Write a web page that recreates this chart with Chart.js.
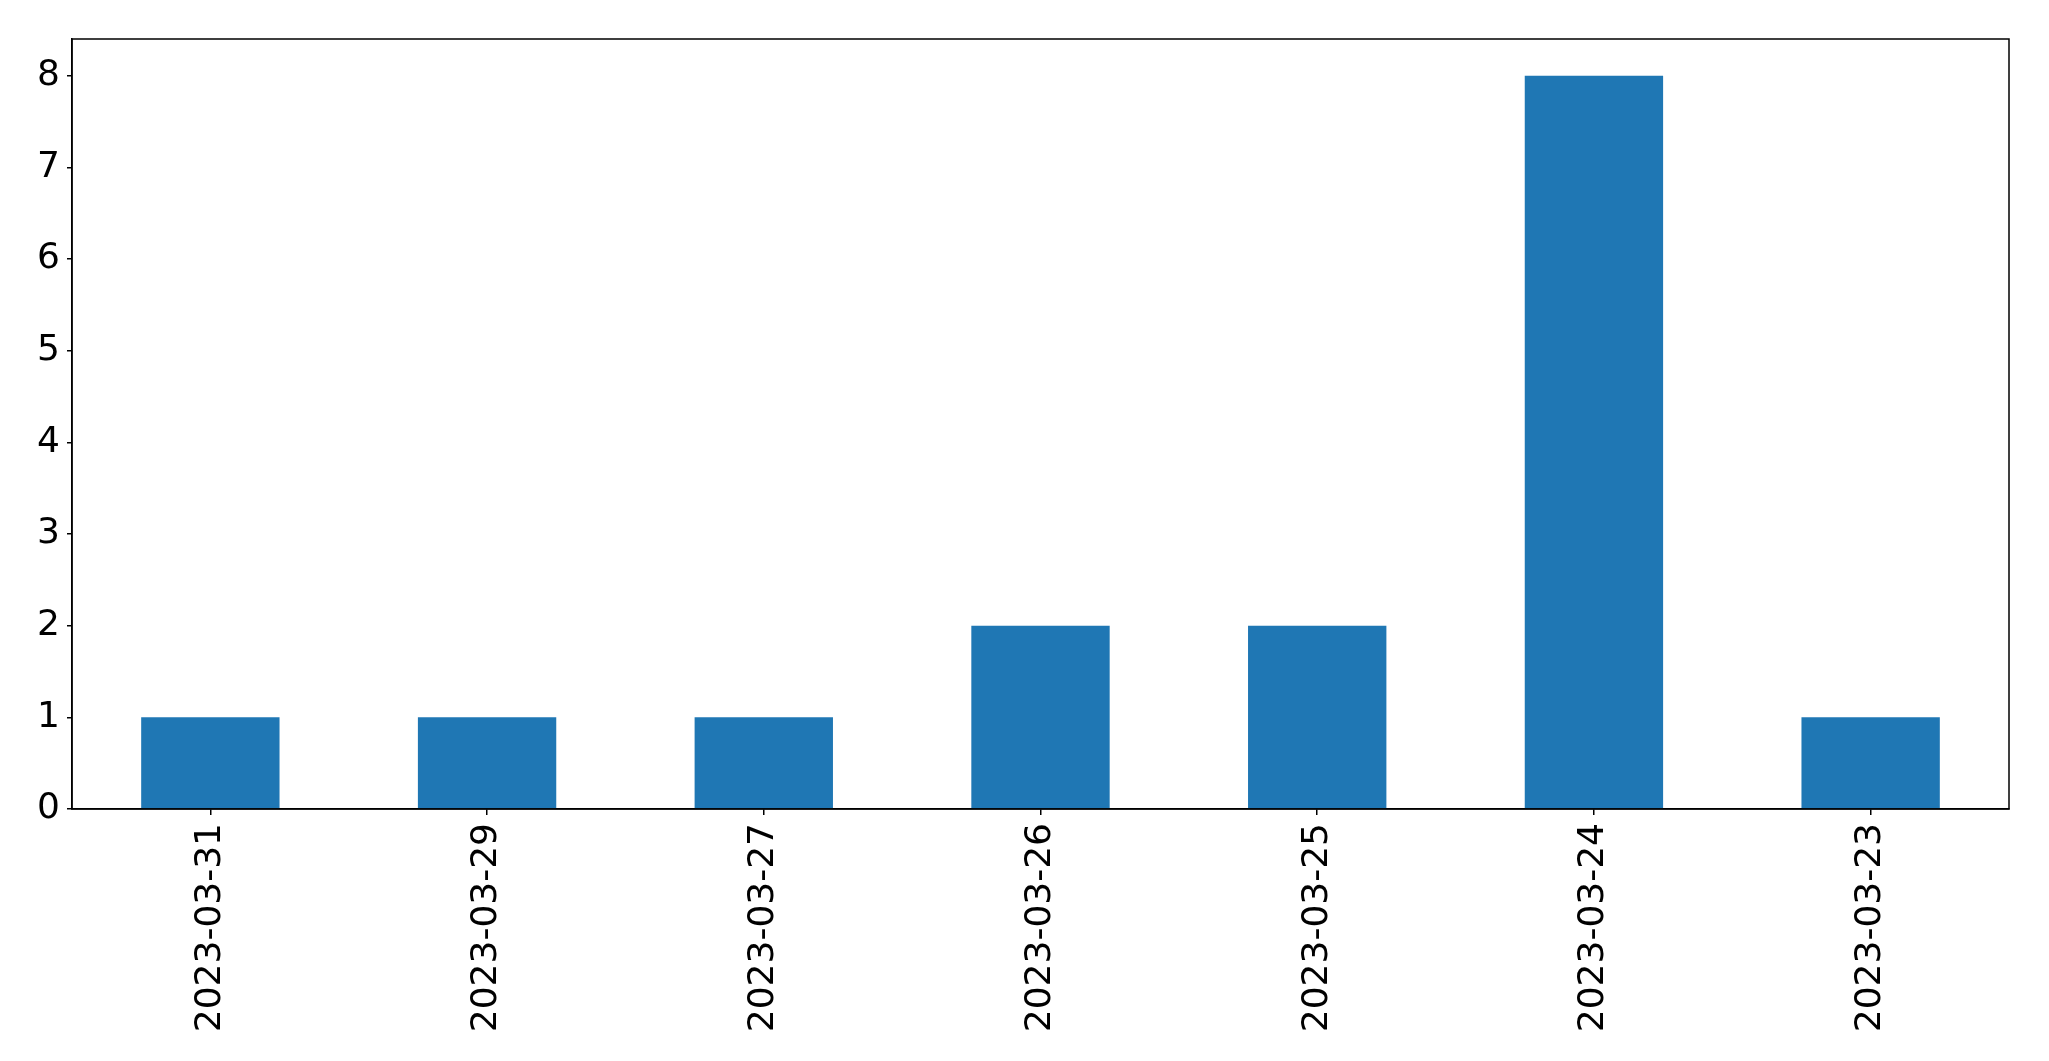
<!DOCTYPE html>
<html>
<head>
<meta charset="utf-8">
<script src="https://cdn.jsdelivr.net/npm/chart.js@4"></script>
<style>
  html, body { margin: 0; padding: 0; background: #fff; }
  #wrap { width: 2049px; height: 1061px; }
</style>
</head>
<body>
<div id="wrap"><canvas id="chart"></canvas></div>
<script>
// data
const dates = ["2023-03-31", "2023-03-29", "2023-03-27", "2023-03-26", "2023-03-25", "2023-03-24", "2023-03-23"];
const counts = [1, 1, 1, 2, 2, 8, 1];
const yTicks = [0, 1, 2, 3, 4, 5, 6, 7, 8];

// box around the plot area, like matplotlib spines
const frame = {
  id: "frame",
  afterDraw(chart) {
    const a = chart.chartArea;
    const c = chart.ctx;
    c.save();
    c.strokeStyle = "#000";
    c.lineWidth = 1.5;
    c.strokeRect(a.left, a.top, a.right - a.left, a.bottom - a.top);
    c.restore();
  }
};

Chart.defaults.font.family = "'DejaVu Sans', sans-serif";
Chart.defaults.color = "#000";

new Chart(document.getElementById("chart"), {
  type: "bar",
  data: {
    labels: dates,
    datasets: [{
      data: counts,
      backgroundColor: "#1f77b4",
      barPercentage: 0.5,
      categoryPercentage: 1.0
    }]
  },
  options: {
    responsive: true,
    maintainAspectRatio: false,
    animation: false,
    layout: { padding: { top: 39, right: 40, left: 0, bottom: 0 } },
    plugins: { legend: { display: false }, tooltip: { enabled: false } },
    scales: {
      x: {
        offset: true,
        grid: { display: true, offset: false, drawOnChartArea: false, tickLength: 6, color: "#000", lineWidth: 1.5 },
        border: { display: true, color: "#000", width: 1.5 },
        ticks: { font: { size: 36 }, maxRotation: 90, minRotation: 90, padding: 8, autoSkip: false },
        afterFit(scale) { scale.height = 252; }
      },
      y: {
        min: 0,
        max: 8.4,
        grid: { display: true, drawOnChartArea: false, tickLength: 5, color: "#000", lineWidth: 1.5 },
        border: { display: true, color: "#000", width: 1.5 },
        ticks: { font: { size: 36 }, stepSize: 1, includeBounds: false, padding: 7 },
        afterBuildTicks(scale) { scale.ticks = yTicks.map(v => ({ value: v })); },
        afterFit(scale) { scale.width = 72; }
      }
    }
  },
  plugins: [frame]
});
</script>
</body>
</html>
